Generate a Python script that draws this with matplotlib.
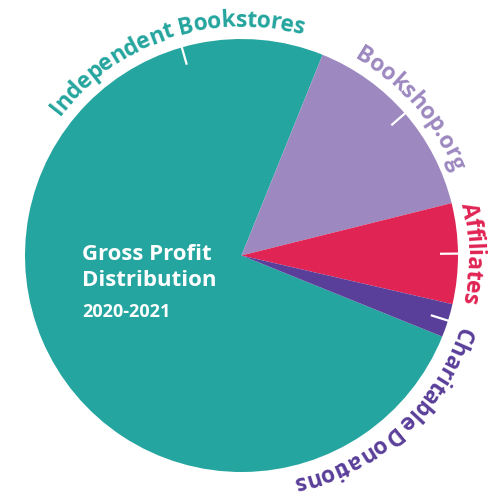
import numpy as np
import matplotlib
matplotlib.use("Agg")
import matplotlib.pyplot as plt
from matplotlib.font_manager import FontProperties

# data
labels = ["Independent Bookstores", "Bookshop.org", "Affiliates", "Charitable Donations"]
shares = [75, 15, 7.5, 2.5]
colors = ["#25A59F", "#9D89C0", "#E02454", "#5A3F9A"]

title_lines = ["Gross Profit", "Distribution"]
subtitle = "2020-2021"

FONT = "Open Sans"
WEIGHT = "bold"

fig = plt.figure(figsize=(5, 5), dpi=100)
ax = fig.add_axes([0, 0, 1, 1])

cx, cy, R = 241.5, 244.5, 216.5
wedges, _ = ax.pie(shares, colors=colors, startangle=-22, counterclock=False,
                   radius=R, center=(cx, cy), wedgeprops=dict(linewidth=0))
ax.set_xlim(0, 500)
ax.set_ylim(0, 500)
ax.set_aspect("equal")
ax.axis("off")

renderer = fig.canvas.get_renderer()


def curved_text(s, theta_deg, r, color, align="center", size=16.5, track=0.0):
    """write s clockwise along a circle, tops pointing outward"""
    prop = FontProperties(family=FONT, weight=WEIGHT, size=size)
    px = lambda t: renderer.get_text_width_height_descent(t, prop, ismath=False)[0]
    total = px(s) + track * (len(s) - 1)
    if align == "center":
        start = np.radians(theta_deg) + (total / 2) / r
    else:
        start = np.radians(theta_deg)
    for i, ch in enumerate(s):
        if ch == " ":
            continue
        mid = (px(s[:i]) + px(s[:i + 1])) / 2 + track * i
        th = start - mid / r
        ax.text(cx + r * np.cos(th), cy + r * np.sin(th), ch, fontproperties=prop,
                color=color, rotation=np.degrees(th) - 90, rotation_mode="anchor",
                ha="center", va="baseline")


# midpoints of every wedge (math angle)
mids = [(w.theta1 + w.theta2) / 2 for w in wedges]
tick_ang = list(mids)
tick_ang[0] = 90 + 16      # label for the big slice sits at the top

for a in tick_ang:
    t = np.radians(a)
    ax.plot([cx + (R - 18) * np.cos(t), cx + (R + 1) * np.cos(t)],
            [cy + (R - 18) * np.sin(t), cy + (R + 1) * np.sin(t)],
            color="white", lw=1.6, solid_capstyle="butt")

curved_text(labels[0], 90 + 18.5, 229, colors[0], track=-0.4)
curved_text(labels[1], mids[1], 227, colors[1], track=-0.4)
curved_text(labels[2], mids[2], 225.5, colors[2], track=-0.4)
curved_text(labels[3], mids[3] - 0.5, 228, colors[3], align="left", track=-0.4)

ax.text(82, 240, title_lines[0], fontsize=16, family=FONT, weight=WEIGHT,
        color="white", va="baseline")
ax.text(82, 214, title_lines[1], fontsize=16, family=FONT, weight=WEIGHT,
        color="white", va="baseline")
ax.text(82, 183, subtitle, fontsize=13, family=FONT, weight=WEIGHT,
        color="white", va="baseline")

fig.savefig("out.png", dpi=100, facecolor="white")
